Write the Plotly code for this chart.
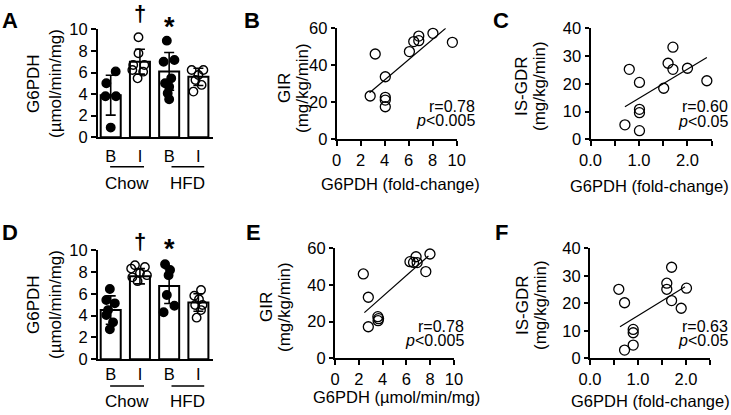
import plotly.graph_objects as go

W, H = 731, 415
FONT = "Liberation Sans, Arial, Helvetica, sans-serif"

# ---------------- data ----------------
bar_cats = ["B", "I", "B", "I"]
diet_groups = ["Chow", "HFD"]

A_means = [3.9, 7.0, 6.1, 5.6]
A_sd = [1.85, 1.15, 1.75, 0.8]
A_pts = [
    [6.1, 5.0, 3.8, 3.8, 0.9],
    [9.26, 7.78, 6.7, 6.7, 6.23, 6.08, 5.46],
    [8.95, 7.16, 7.0, 5.46, 5.0, 4.69, 4.07, 3.52],
    [6.23, 6.23, 5.77, 5.3, 4.85, 4.23],
]
A_jit = [
    [0.17, -0.15, -0.18, 0.18, 0.0],
    [-0.05, -0.05, -0.23, 0.15, -0.26, 0.11, -0.08],
    [-0.08, 0.18, -0.19, 0.07, -0.14, 0.0, -0.05, 0.0],
    [-0.23, 0.17, 0.0, -0.1, 0.11, -0.17],
]

D_means = [4.5, 7.6, 6.7, 5.2]
D_sd = [1.3, 0.7, 1.6, 0.8]
D_pts = [
    [6.43, 5.43, 5.12, 4.5, 4.05, 3.38, 2.74],
    [8.6, 8.45, 8.3, 7.9, 7.7, 7.5, 7.15],
    [8.69, 8.17, 7.7, 5.88, 4.9, 4.3],
    [6.34, 5.82, 5.5, 4.97, 4.97, 4.5, 3.81],
]
D_jit = [
    [-0.03, -0.15, 0.14, -0.09, -0.15, 0.08, -0.03],
    [-0.17, 0.17, -0.3, 0.0, 0.24, -0.26, -0.08],
    [-0.14, 0.03, -0.02, -0.08, 0.18, -0.19],
    [0.09, -0.14, 0.02, -0.11, 0.14, 0.09, -0.06],
]

B_x = [3.21, 2.79, 4.05, 4.05, 4.05, 4.05, 6.06, 6.42, 6.84, 6.84, 8.02, 9.64]
B_y = [46.1, 23.4, 33.8, 22.7, 21.2, 17.6, 47.4, 52.8, 55.8, 53.3, 57.3, 52.4]
B_fit_x = [2.74, 9.08]
B_fit_y = [25.2, 60.0]

C_x = [1.70, 0.80, 1.01, 1.60, 1.70, 2.0, 1.51, 2.40, 1.01, 1.01, 0.71, 1.01]
C_y = [33.2, 25.2, 20.5, 27.4, 25.2, 25.6, 18.4, 21.1, 10.8, 9.6, 5.2, 3.1]
C_fit_x = [0.71, 2.40]
C_fit_y = [11.7, 29.5]

E_x = [2.38, 2.80, 2.80, 3.60, 3.66, 3.62, 6.30, 6.60, 6.81, 6.90, 7.98, 7.63]
E_y = [46.0, 33.3, 17.2, 22.7, 21.6, 20.5, 52.7, 52.3, 55.4, 52.2, 56.9, 47.3]
E_fit_x = [2.47, 7.85]
E_fit_y = [24.9, 55.8]

F_x = [1.70, 0.60, 0.72, 1.60, 1.60, 2.01, 1.70, 1.90, 0.90, 0.90, 0.90, 0.72]
F_y = [33.1, 25.1, 20.2, 27.3, 25.1, 25.5, 21.0, 18.2, 10.5, 9.3, 4.8, 3.0]
F_fit_x = [0.625, 1.98]
F_fit_y = [11.5, 26.0]

stats = {"B": ("r=0.78", "0.005"), "C": ("r=0.60", "0.05"),
         "E": ("r=0.78", "0.005"), "F": ("r=0.63", "0.05")}

# ---------------- helpers ----------------
def fx(px):
    return px / W

def fy(py):
    return 1 - py / H

fig = go.Figure()
annotations = []
shapes = []

def axis_common(**kw):
    d = dict(showline=True, linecolor="black", linewidth=2, showgrid=False,
             zeroline=False, ticks="outside", tickcolor="black", tickwidth=2,
             ticklen=5, tickfont=dict(family=FONT, size=16.5, color="black"),
             fixedrange=True, automargin=False)
    d.update(kw)
    return d

def text(x, y, s, size=17, xref="paper", yref="paper", angle=0, bold=False,
         xanchor="center", yanchor="middle"):
    if bold:
        s = "<b>" + s + "</b>"
    annotations.append(dict(x=x, y=y, xref=xref, yref=yref, text=s, showarrow=False,
                            textangle=angle, xanchor=xanchor, yanchor=yanchor,
                            borderpad=0,
                            font=dict(family=FONT, size=size, color="black")))

layout_axes = {}

def bar_panel(idx, xdom, ydom, means, sd, pts, jit, ticklab, standoff, sig_y, line_y, grp_y):
    xa = "x" if idx == 1 else f"x{idx}"
    ya = "y" if idx == 1 else f"y{idx}"
    cats = list(range(len(bar_cats)))
    fig.add_trace(go.Bar(x=cats, y=means, width=0.685, xaxis=xa, yaxis=ya,
                         marker=dict(color="white", line=dict(color="black", width=2)),
                         error_y=dict(type="data", array=sd, color="black",
                                      thickness=1.6, width=5)))
    for i, (vals, jj) in enumerate(zip(pts, jit)):
        filled = (i % 2 == 0)
        fig.add_trace(go.Scatter(
            x=[cats[i] + j for j in jj], y=vals, mode="markers", xaxis=xa, yaxis=ya,
            cliponaxis=False,
            marker=dict(symbol="circle" if filled else "circle-open", size=8.5,
                        color="black", line=dict(color="black", width=1.4))))
    key = "" if idx == 1 else str(idx)
    layout_axes["xaxis" + key] = axis_common(
        domain=[fx(xdom[0]), fx(xdom[1])], range=[-0.435, 3.5], anchor=ya,
        tickvals=cats, ticktext=bar_cats, tickcolor="rgba(0,0,0,0)", ticklen=ticklab,
        ticklabelstandoff=standoff)
    layout_axes["yaxis" + key] = axis_common(
        domain=[fy(ydom[1]), fy(ydom[0])], range=[0, 10], anchor=xa,
        tickvals=[0, 2, 4, 6, 8, 10], ticklen=5)
    # group underlines and labels
    for g, (x0, x1) in zip(diet_groups, [(-0.02, 1.14), (2.08, 3.2)]):
        shapes.append(dict(type="line", xref=xa, yref="paper", x0=x0, x1=x1,
                           y0=fy(line_y), y1=fy(line_y),
                           line=dict(color="black", width=1.5)))
        text((x0 + x1) / 2, fy(grp_y), g, xref=xa)
    # significance marks
    text(1, fy(sig_y[0]), "†", size=22, bold=True, xref=xa)
    text(2, fy(sig_y[1]), "*", size=27, bold=True, xref=xa)

def scatter_panel(idx, xdom, ydom, xs, ys, fitx, fity, xr, xticks, xtext, yr, yticks, key_s, stat_xy):
    xa = f"x{idx}"
    ya = f"y{idx}"
    fig.add_trace(go.Scatter(x=fitx, y=fity, mode="lines", xaxis=xa, yaxis=ya,
                             line=dict(color="black", width=1.2)))
    fig.add_trace(go.Scatter(x=xs, y=ys, mode="markers", xaxis=xa, yaxis=ya,
                             cliponaxis=False,
                             marker=dict(symbol="circle-open", size=10, color="black",
                                         line=dict(width=1.3))))
    layout_axes["xaxis" + str(idx)] = axis_common(
        domain=[fx(xdom[0]), fx(xdom[1])], range=xr, anchor=ya,
        tickvals=xticks, ticktext=xtext)
    layout_axes["yaxis" + str(idx)] = axis_common(
        domain=[fy(ydom[1]), fy(ydom[0])], range=yr, anchor=xa,
        tickvals=yticks, ticklen=4)
    r, p = stats[key_s]
    text(fx(stat_xy[0]), fy(stat_xy[1]), r, size=16, xanchor="right")
    text(fx(stat_xy[0]), fy(stat_xy[1] + 14.5), "<i>p</i>&lt;" + p, size=16, xanchor="right")

# ---------------- panels ----------------
bar_panel(1, (98, 213), (29.3, 137.3), A_means, A_sd, A_pts, A_jit, 3, 0,
          (13.5, 27), 166.7, 183)
bar_panel(4, (98, 213), (250, 359.3), D_means, D_sd, D_pts, D_jit, 0, -1,
          (241, 249), 386, 401.5)

scatter_panel(2, (336.7, 456.7), (28.3, 139.3), B_x, B_y, B_fit_x, B_fit_y,
              [0, 10], [0, 2, 4, 6, 8, 10], ["0", "2", "4", "6", "8", "10"],
              [0, 60], [0, 20, 40, 60], "B", (476, 106))
scatter_panel(3, (590.5, 711.7), (28.3, 139.3), C_x, C_y, C_fit_x, C_fit_y,
              [0, 2.5], [0, 0.5, 1, 1.5, 2, 2.5], ["0.0", "", "1.0", "", "2.0", ""],
              [0, 40], [0, 10, 20, 30, 40], "C", (729, 107))
scatter_panel(5, (335, 454), (248.3, 358.3), E_x, E_y, E_fit_x, E_fit_y,
              [0, 10], [0, 2, 4, 6, 8, 10], ["0", "2", "4", "6", "8", "10"],
              [0, 60], [0, 20, 40, 60], "E", (465, 326))
scatter_panel(6, (590, 710), (248.3, 358.3), F_x, F_y, F_fit_x, F_fit_y,
              [0, 2.5], [0, 0.5, 1, 1.5, 2, 2.5], ["0.0", "", "1.0", "", "2.0", ""],
              [0, 40], [0, 10, 20, 30, 40], "F", (729, 326))

# axis titles (two-line rotated y titles)
def ytitle(x1, x2, yc, l1, l2):
    text(fx(x1), fy(yc), l1, angle=-90)
    text(fx(x2), fy(yc), l2, angle=-90)

ytitle(33, 55, 84, "G6PDH", "(µmol/min/mg)")
ytitle(33, 55, 305, "G6PDH", "(µmol/min/mg)")
ytitle(284, 302, 88, "GIR", "(mg/kg/min)")
ytitle(266, 284, 307, "GIR", "(mg/kg/min)")
ytitle(522, 540, 86, "IS-GDR", "(mg/kg/min)")
ytitle(522, 540, 305, "IS-GDR", "(mg/kg/min)")

text(fx(400), fy(184), "G6PDH (fold-change)", size=16.5)
text(fx(649), fy(186), "G6PDH (fold-change)", size=16.5)
text(fx(396), fy(397), "G6PDH (µmol/min/mg)", size=16.5)
text(fx(650), fy(401), "G6PDH (fold-change)", size=16.5)

# panel letters
for lab, (x, y) in {"A": (10, 20), "B": (252, 20), "C": (501, 20),
                    "D": (10, 232), "E": (253, 232), "F": (501, 232)}.items():
    text(fx(x), fy(y), lab, size=22, bold=True)

fig.update_layout(width=W, height=H, margin=dict(l=0, r=0, t=0, b=0, autoexpand=False),
                  paper_bgcolor="white", plot_bgcolor="white", showlegend=False,
                  annotations=annotations, shapes=shapes, **layout_axes)

fig.write_html("out.html", config={"displayModeBar": False},
               post_script="document.body.style.margin='0';document.body.style.overflow='hidden';")
